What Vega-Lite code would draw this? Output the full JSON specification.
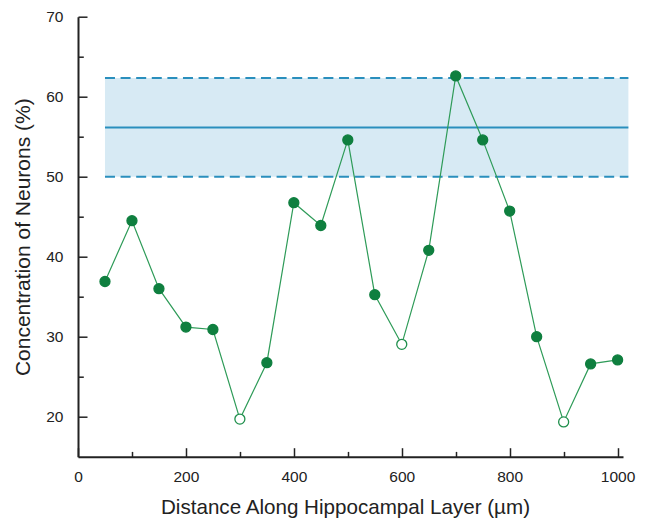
{
  "$schema": "https://vega.github.io/schema/vega-lite/v6.json",
  "width": 545,
  "height": 440,
  "autosize": {"type": "none"},
  "padding": {"left": 78, "top": 16.7, "right": 28, "bottom": 62.3},
  "background": "white",
  "config": {
    "view": {"stroke": null},
    "font": "Liberation Sans",
    "axis": {
      "grid": false,
      "domainColor": "#222222",
      "domainWidth": 2,
      "tickColor": "#222222",
      "tickWidth": 1.5,
      "labelColor": "#222222",
      "labelFont": "Liberation Sans",
      "labelFontSize": 15.5,
      "titleFont": "Liberation Sans",
      "titleFontSize": 21,
      "titleFontWeight": "normal",
      "titleColor": "#222222"
    }
  },
  "datasets": {
    "points": [
      {"distance": 50, "concentration": 36.9, "category": "regular"},
      {"distance": 100, "concentration": 44.5, "category": "regular"},
      {"distance": 150, "concentration": 36.0, "category": "regular"},
      {"distance": 200, "concentration": 31.2, "category": "regular"},
      {"distance": 250, "concentration": 30.9, "category": "regular"},
      {"distance": 300, "concentration": 19.7, "category": "minimum"},
      {"distance": 350, "concentration": 26.75, "category": "regular"},
      {"distance": 400, "concentration": 46.75, "category": "regular"},
      {"distance": 450, "concentration": 43.9, "category": "regular"},
      {"distance": 500, "concentration": 54.6, "category": "regular"},
      {"distance": 550, "concentration": 35.25, "category": "regular"},
      {"distance": 600, "concentration": 29.05, "category": "minimum"},
      {"distance": 650, "concentration": 40.8, "category": "regular"},
      {"distance": 700, "concentration": 62.6, "category": "regular"},
      {"distance": 750, "concentration": 54.6, "category": "regular"},
      {"distance": 800, "concentration": 45.7, "category": "regular"},
      {"distance": 850, "concentration": 30.0, "category": "regular"},
      {"distance": 900, "concentration": 19.35, "category": "minimum"},
      {"distance": 950, "concentration": 26.6, "category": "regular"},
      {"distance": 1000, "concentration": 27.1, "category": "regular"}
    ],
    "band": [
      {"start": 50, "end": 1020, "lower": 50.0, "upper": 62.35, "mean": 56.15}
    ]
  },
  "layer": [
    {
      "data": {"name": "band"},
      "mark": {"type": "rect", "color": "#d7eaf4"},
      "encoding": {
        "x": {"field": "start", "type": "quantitative"},
        "x2": {"field": "end"},
        "y": {"field": "lower", "type": "quantitative"},
        "y2": {"field": "upper"}
      }
    },
    {
      "data": {"name": "band"},
      "mark": {"type": "rule", "color": "#2a8fbd", "strokeWidth": 2, "strokeDash": [10, 5.6]},
      "encoding": {
        "x": {"field": "start", "type": "quantitative"},
        "x2": {"field": "end"},
        "y": {"field": "upper", "type": "quantitative"}
      }
    },
    {
      "data": {"name": "band"},
      "mark": {"type": "rule", "color": "#2a8fbd", "strokeWidth": 2, "strokeDash": [10, 5.6]},
      "encoding": {
        "x": {"field": "start", "type": "quantitative"},
        "x2": {"field": "end"},
        "y": {"field": "lower", "type": "quantitative"}
      }
    },
    {
      "data": {"name": "band"},
      "mark": {"type": "rule", "color": "#2a8fbd", "strokeWidth": 2},
      "encoding": {
        "x": {"field": "start", "type": "quantitative"},
        "x2": {"field": "end"},
        "y": {"field": "mean", "type": "quantitative"}
      }
    },
    {
      "data": {"name": "points"},
      "mark": {"type": "line", "color": "#2e9b58", "strokeWidth": 1.2},
      "encoding": {
        "x": {"field": "distance", "type": "quantitative"},
        "y": {"field": "concentration", "type": "quantitative"}
      }
    },
    {
      "data": {"name": "points"},
      "mark": {"type": "point", "filled": false, "size": 100, "strokeWidth": 1.3, "opacity": 1},
      "encoding": {
        "x": {
          "field": "distance",
          "type": "quantitative",
          "scale": {"domain": [0, 1010], "nice": false, "zero": false},
          "axis": {
            "title": "Distance Along Hippocampal Layer (µm)",
            "titleFontSize": 20.6,
            "titleX": 267,
            "format": "d",
            "values": [0, 100, 200, 300, 400, 500, 600, 700, 800, 900, 1000],
            "labelExpr": "datum.value % 200 === 0 ? datum.label : ''",
            "tickSize": {"condition": {"test": "datum.value % 200 === 0", "value": -9}, "value": -5.3},
            "labelPadding": 22,
            "labelFlush": false,
            "labelOverlap": false,
            "titlePadding": 9
          }
        },
        "y": {
          "field": "concentration",
          "type": "quantitative",
          "scale": {"domain": [15, 70], "nice": false, "zero": false},
          "axis": {
            "title": "Concentration of Neurons (%)",
            "values": [20, 25, 30, 35, 40, 45, 50, 55, 60, 65, 70],
            "labelExpr": "datum.value % 10 === 0 ? datum.label : ''",
            "tickSize": {"condition": {"test": "datum.value % 10 === 0", "value": -9}, "value": -5.3},
            "labelPadding": 24,
            "labelFlush": false,
            "labelOverlap": false,
            "titlePadding": 12
          }
        },
        "fill": {
          "field": "category",
          "type": "nominal",
          "scale": {"domain": ["regular", "minimum"], "range": ["#0f7f3f", "#ffffff"]},
          "legend": null
        },
        "stroke": {
          "field": "category",
          "type": "nominal",
          "scale": {"domain": ["regular", "minimum"], "range": ["#0f7f3f", "#1f8f4c"]},
          "legend": null
        }
      }
    }
  ]
}
